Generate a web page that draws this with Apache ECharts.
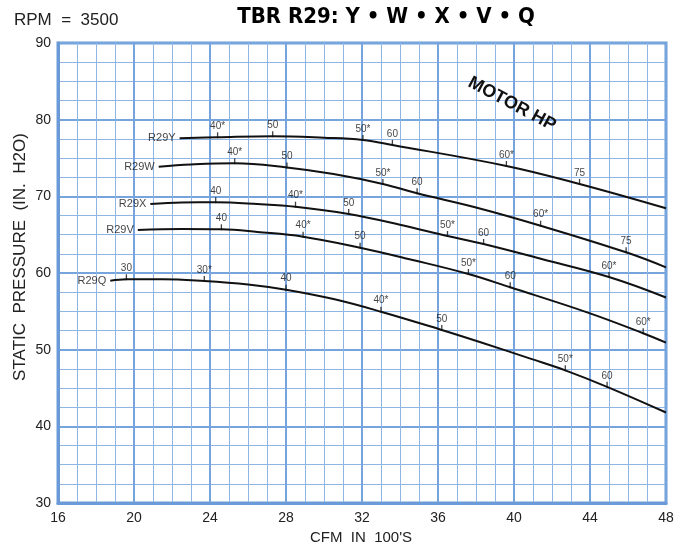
<!DOCTYPE html>
<html><head><meta charset="utf-8">
<script src="https://cdn.jsdelivr.net/npm/echarts@6/dist/echarts.min.js"></script>
<style>html,body{margin:0;padding:0;background:#fff}#c{width:691px;height:550px}</style>
</head><body><div id="c"></div><script>
// ---- data ----
const xTicks = [16, 20, 24, 28, 32, 36, 40, 44, 48];
const yTicks = [30, 40, 50, 60, 70, 80, 90];
const curveNames = ['R29Y', 'R29W', 'R29X', 'R29V', 'R29Q'];

const cfmY = [22.4, 24.4, 27.3, 30, 32.05, 33.6, 39.6, 43.45, 48];
const spY  = [77.57, 77.7, 77.85, 77.65, 77.35, 76.7, 73.96, 71.61, 68.44];
const cfmW = [21.3, 23, 25.3, 28.05, 30.5, 33.1, 34.9, 38, 41.4, 45.9, 48];
const spW  = [73.87, 74.15, 74.31, 73.76, 72.9, 71.61, 70.4, 68.55, 66.17, 62.7, 60.74];
const cfmX = [20.86, 22.5, 24.3, 26.5, 28.5, 31.3, 34, 36.5, 38.4, 41.5, 45.0, 48];
const spX  = [69.0, 69.2, 69.22, 69.0, 68.65, 67.7, 66.3, 64.83, 63.78, 61.8, 59.48, 56.81];
const cfmV = [20.2, 22.5, 24.6, 26.5, 28.9, 31.9, 34.5, 37.6, 39.8, 44, 46.8, 48];
const spV  = [65.61, 65.75, 65.7, 65.35, 64.74, 63.3, 61.8, 59.87, 58.14, 54.74, 52.14, 50.91];
const cfmQ = [18.75, 19.6, 21.5, 23.7, 26, 28, 30.5, 33, 36.2, 38.2, 40.9, 42.7, 44.9, 48];
const spQ  = [59.0, 59.18, 59.2, 58.96, 58.5, 57.82, 56.6, 54.95, 52.57, 51.0, 48.8, 47.3, 45.15, 41.8];

// motor HP marks (position along each curve + label)
const hpXY = [24.4, 27.3, 32.05, 33.6, 39.6, 43.45];
const hpLY = ['40*', '50', '50*', '60', '60*', '75'];
const hpXW = [25.3, 28.05, 33.1, 34.9, 41.4, 45.9];
const hpLW = ['40*', '50', '50*', '60', '60*', '75'];
const hpXX = [24.3, 28.5, 31.3, 36.5, 38.4, 45.0];
const hpLX = ['40', '40*', '50', '50*', '60', '60*'];
const hpXV = [24.6, 28.9, 31.9, 37.6, 39.8, 46.8];
const hpLV = ['40', '40*', '50', '50*', '60', '60*'];
const hpXQ = [19.6, 23.7, 28.0, 33.0, 36.2, 42.7, 44.9];
const hpLQ = ['30', '30*', '40', '40*', '50', '50*', '60'];

// ---- build ----
const FONT = "'Liberation Sans', Arial, Helvetica, sans-serif";
const curves = [
  [cfmY, spY, hpXY, hpLY], [cfmW, spW, hpXW, hpLW], [cfmX, spX, hpXX, hpLX],
  [cfmV, spV, hpXV, hpLV], [cfmQ, spQ, hpXQ, hpLQ]
];
const series = [];
curves.forEach((c, i) => {
  const [cx, cy, hx, hl] = c;
  series.push({
    type: 'line', name: curveNames[i], smooth: 0.4, showSymbol: false, z: 5,
    data: cx.map((v, k) => [v, cy[k]]),
    lineStyle: { color: '#111', width: 2 }
  });
  series.push({
    type: 'scatter', z: 6, symbol: 'rect', symbolSize: [1.3, 6], symbolOffset: [0, -2],
    itemStyle: { color: '#111' },
    data: hx.map((v, k) => ({ value: [v, cy[cx.indexOf(v)]], name: hl[k] })),
    label: { show: true, position: 'top', distance: 1, formatter: p => p.name,
             fontSize: 10, color: '#111', fontFamily: FONT }
  });
  series.push({
    type: 'scatter', z: 6, symbolSize: 0,
    data: [{ value: [cx[0], cy[0]], name: curveNames[i] }],
    label: { show: true, position: 'left', distance: 4, formatter: p => p.name,
             fontSize: 11, color: '#111', fontFamily: FONT }
  });
});

const gridBlue = '#6a9bd8';
const chart = echarts.init(document.getElementById('c'), null, { renderer: 'canvas' });
chart.setOption({
  animation: false,
  backgroundColor: '#fff',
  grid: { left: 58, right: 25, top: 43, bottom: 47, show: true, borderColor: gridBlue, borderWidth: 3, backgroundColor: 'transparent' },
  xAxis: {
    type: 'value', min: xTicks[0], max: xTicks[xTicks.length - 1], interval: 4,
    axisLine: { show: true, lineStyle: { color: gridBlue, width: 3 } },
    axisTick: { show: false },
    axisLabel: { fontSize: 14, color: '#222', margin: 8, fontFamily: FONT },
    splitLine: { show: true, lineStyle: { color: '#76a4dc', width: 2 } },
    minorTick: { show: false, splitNumber: 4 },
    minorSplitLine: { show: true, lineStyle: { color: '#8fb5e5', width: 1 } }
  },
  yAxis: {
    type: 'value', min: yTicks[0], max: yTicks[yTicks.length - 1], interval: 10,
    axisLine: { show: true, lineStyle: { color: gridBlue, width: 3 } },
    axisTick: { show: false },
    axisLabel: { fontSize: 14, color: '#222', margin: 7, fontFamily: FONT },
    splitLine: { show: true, lineStyle: { color: '#76a4dc', width: 2 } },
    minorTick: { show: false, splitNumber: 4 },
    minorSplitLine: { show: true, lineStyle: { color: '#8fb5e5', width: 1 } }
  },
  graphic: [
    { type: 'text', x: 14, y: 20, style: { text: 'RPM  =  3500', font: "17px " + FONT, fill: '#222', align: 'left', verticalAlign: 'middle', textAlign: 'left', textVerticalAlign: 'middle' } },
    { type: 'text', x: 386, y: 17, style: { text: 'TBR R29: Y • W • X • V • Q', font: "bold 22px 'DejaVu Sans Condensed', 'Liberation Sans Narrow', sans-serif", fill: '#000', align: 'center', verticalAlign: 'middle', textAlign: 'center', textVerticalAlign: 'middle' } },
    { type: 'text', x: 361, y: 538, style: { text: "CFM  IN  100'S", font: "15px " + FONT, fill: '#222', align: 'center', verticalAlign: 'middle', textAlign: 'center', textVerticalAlign: 'middle' } },
    { type: 'text', x: 20, y: 257, rotation: Math.PI / 2, style: { text: 'STATIC  PRESSURE  (IN.  H2O)', font: "17px " + FONT, fill: '#222', align: 'center', verticalAlign: 'middle', textAlign: 'center', textVerticalAlign: 'middle' } },
    { type: 'text', x: 512, y: 104, rotation: -28 * Math.PI / 180, z: 10, style: { text: 'MOTOR HP', font: "bold 18px " + FONT, fill: '#111', align: 'center', verticalAlign: 'middle', textAlign: 'center', textVerticalAlign: 'middle' } }
  ],
  series: series
});
</script></body></html>
